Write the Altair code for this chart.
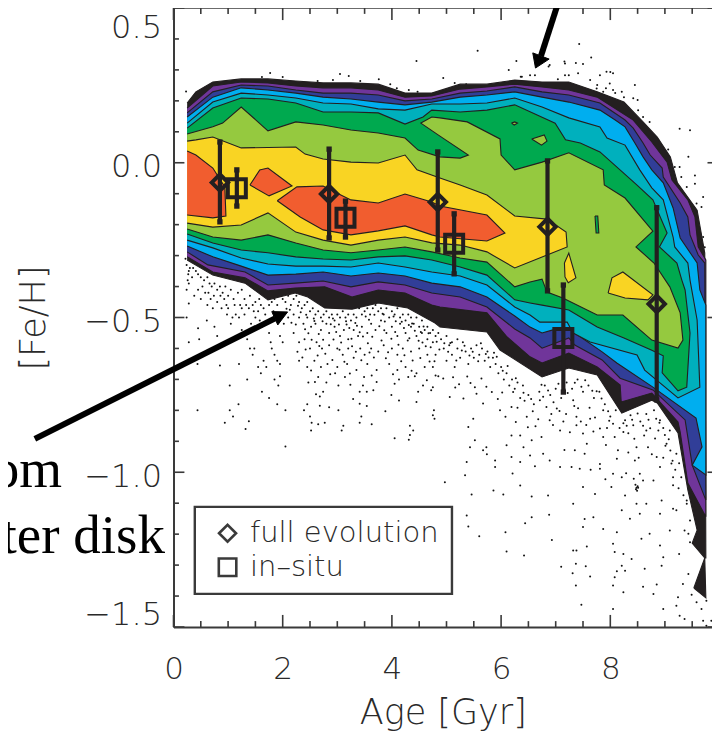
import altair as alt
import pandas as pd

# ---- contour outlines: ages (Gyr) and [Fe/H], in path order ----
BLACK_AGE = [.25,.41,.72,1.24,1.73,2.24,2.74,3.25,3.75,4.24,4.73,5.25,5.74,6.25,6.75,7.24,7.76,8.25,8.60,8.86,9.10,9.23,9.59,9.73,9.75,9.73,9.50,9.59,9.42,9.24,8.86,8.76,8.21,7.76,7.24,6.75,5.98,5.74,4.88,4.79,4.29,3.75,3.27,2.77,2.46,2.23,1.73,1.31,.72,.25]
BLACK_FEH = [.193,.229,.261,.271,.271,.264,.258,.258,.254,.225,.225,.254,.254,.267,.261,.261,.229,.196,.132,.083,.019,-.065,-.153,-.292,-1.277,-1.277,-1.229,-1.187,-1.057,-.873,-.776,-.767,-.809,-.686,-.663,-.692,-.605,-.547,-.531,-.518,-.469,-.453,-.473,-.469,-.434,-.421,-.443,-.389,-.363,-.314]
TAIL_AGE = [9.53,9.73,9.75,9.53]
TAIL_FEH = [-1.374,-1.277,-1.406,-1.374]
PURPLE_AGE = [.25,.72,1.24,1.73,2.24,2.74,3.25,3.75,4.24,4.73,5.25,5.74,6.25,6.75,7.24,7.76,8.42,8.76,9.04,9.13,9.42,9.55,9.61,9.75,9.75,9.42,9.28,9.24,8.76,8.20,8.18,7.76,7.24,6.75,6.53,6.11,5.74,4.88,4.73,4.24,3.75,3.27,2.77,2.23,1.73,1.31,.72,.25]
PURPLE_FEH = [.177,.248,.261,.258,.248,.242,.242,.235,.212,.216,.238,.245,.254,.245,.235,.212,.138,.067,.002,-.056,-.120,-.175,-.272,-.314,-1.144,-1.035,-.870,-.838,-.744,-.773,-.718,-.660,-.615,-.647,-.627,-.563,-.485,-.466,-.460,-.421,-.411,-.434,-.401,-.405,-.414,-.372,-.353,-.304]
BLUE_AGE = [.25,.72,1.24,1.73,2.24,2.74,3.25,3.75,4.24,4.73,5.25,5.74,6.25,6.75,7.24,7.81,8.27,8.42,8.60,8.73,8.95,8.97,9.28,9.42,9.46,9.61,9.73,9.75,9.50,9.37,8.78,8.18,7.85,7.35,7.24,6.75,6.53,6.25,5.74,5.25,4.73,4.24,3.75,3.25,2.74,2.23,1.73,1.31,.63,.25]
BLUE_FEH = [.161,.229,.251,.248,.235,.225,.225,.219,.200,.206,.225,.232,.245,.229,.219,.193,.138,.112,.064,.025,-.017,-.046,-.130,-.175,-.233,-.298,-.324,-1.090,-.977,-.831,-.734,-.696,-.637,-.589,-.566,-.599,-.566,-.537,-.466,-.434,-.421,-.395,-.385,-.401,-.382,-.389,-.395,-.353,-.330,-.288]
CYAN_AGE = [.25,.72,1.24,1.73,2.24,2.74,3.25,3.75,4.24,4.73,5.25,5.74,6.25,6.75,7.24,7.81,8.09,8.27,8.45,8.60,8.76,8.97,9.15,9.28,9.59,9.64,9.75,9.75,9.50,9.68,9.57,8.78,8.12,7.85,7.35,7.26,6.95,6.75,6.53,6.25,5.74,5.25,4.73,4.24,3.75,3.25,2.74,2.24,1.73,1.24,.72,.25]
CYAN_FEH = [.148,.212,.242,.235,.225,.212,.206,.196,.187,.196,.212,.219,.229,.212,.196,.170,.138,.116,.064,.019,-.023,-.065,-.146,-.243,-.324,-.411,-.460,-1.009,-.977,-.918,-.825,-.725,-.647,-.611,-.550,-.534,-.540,-.550,-.531,-.495,-.434,-.401,-.389,-.366,-.356,-.366,-.353,-.360,-.363,-.334,-.304,-.269]
TEAL_AGE = [.25,.72,1.24,1.73,2.24,2.74,3.25,3.75,4.24,4.73,5.25,5.74,6.25,6.75,7.24,7.81,7.94,8.27,8.54,8.76,8.97,9.15,9.18,9.42,9.46,9.59,9.64,9.24,8.63,8.49,7.63,7.32,7.21,6.71,6.53,6.25,5.74,5.25,4.73,4.24,3.75,3.25,2.74,2.24,1.73,1.24,.72,.25]
TEAL_FEH = [.128,.196,.225,.219,.209,.193,.190,.174,.170,.190,.190,.193,.209,.180,.145,.116,.080,.057,-.023,-.081,-.120,-.240,-.272,-.324,-.379,-.508,-.725,-.760,-.670,-.621,-.579,-.550,-.515,-.515,-.492,-.466,-.395,-.366,-.353,-.337,-.324,-.337,-.334,-.334,-.327,-.308,-.275,-.250]
GREEN_AGE = [.25,.72,1.24,1.73,2.24,2.74,3.25,3.75,4.24,4.57,4.73,5.25,5.74,6.25,6.99,7.18,7.45,7.81,8.49,8.78,9.04,8.90,9.22,9.31,9.37,9.46,9.40,9.24,8.95,8.97,8.75,8.25,7.76,7.24,6.75,6.53,6.25,5.74,5.25,4.73,4.24,3.75,3.25,2.74,2.24,1.73,1.24,.72,.25]
GREEN_FEH = [.112,.177,.209,.206,.193,.164,.164,.161,.125,.148,.170,.164,.170,.187,.128,.074,.064,.035,-.072,-.120,-.227,-.272,-.324,-.379,-.411,-.550,-.725,-.737,-.679,-.624,-.605,-.566,-.531,-.476,-.460,-.453,-.443,-.363,-.337,-.314,-.301,-.304,-.314,-.311,-.304,-.291,-.282,-.259,-.230]
LIME_AGE = [.25,.72,.90,1.24,1.51,1.73,2.24,2.74,3.25,3.75,4.24,4.48,4.88,5.25,5.40,4.88,4.53,4.73,4.88,5.38,5.98,6.00,6.25,6.75,7.24,7.87,7.89,8.27,8.78,8.47,8.80,9.09,9.28,9.33,9.24,8.76,8.23,7.76,7.13,6.84,6.75,6.53,6.25,5.74,5.25,4.73,4.24,3.75,3.25,2.74,2.24,1.73,1.24,.72,.25]
LIME_FEH = [.093,.116,.128,.180,.138,.103,.132,.122,.106,.096,.080,.041,.019,.015,.025,.086,.128,.148,.145,.132,.077,.025,-.023,.002,.032,-.023,-.072,-.114,-.221,-.272,-.324,-.401,-.485,-.573,-.599,-.573,-.492,-.492,-.437,-.418,-.376,-.385,-.401,-.321,-.308,-.288,-.272,-.282,-.291,-.282,-.259,-.233,-.250,-.240,-.214]
YELLOW_AGE = [.25,.41,.72,1.24,2.24,2.41,2.74,3.25,3.75,4.24,4.46,4.88,5.25,5.74,6.25,6.84,7.19,7.21,6.25,5.74,5.25,4.73,4.24,3.75,3.25,2.74,2.24,1.73,1.24,.72,.25]
YELLOW_FEH = [.070,.074,.083,.048,.051,.028,.012,.002,-.001,.025,-.023,-.049,-.072,-.104,-.172,-.182,-.224,-.272,-.340,-.288,-.266,-.259,-.240,-.250,-.266,-.250,-.224,-.162,-.201,-.208,-.195]
ORANGE1_AGE = [.25,.41,.72,.94,.96,.72,.25]
ORANGE1_FEH = [.038,.025,-.017,-.078,-.172,-.178,-.169]
ORANGE2_AGE = [1.40,1.58,1.73,2.17,1.75,1.40]
ORANGE2_FEH = [-.072,-.023,-.017,-.075,-.107,-.072]
ORANGE3_AGE = [1.90,2.26,2.74,2.99,3.25,3.75,4.24,4.73,4.88,5.74,6.07,5.74,4.88,4.73,4.24,3.75,3.25,2.74,2.32,1.90]
ORANGE3_FEH = [-.123,-.078,-.075,-.098,-.120,-.130,-.101,-.127,-.140,-.169,-.227,-.253,-.240,-.233,-.204,-.220,-.233,-.217,-.175,-.123]
YELLOW_A_AGE = [7.96,8.03,8.23,8.78,8.69,8.27,7.96]
YELLOW_A_FEH = [-.421,-.372,-.353,-.427,-.443,-.437,-.421]
YELLOW_B_AGE = [7.16,7.24,7.37,7.23,7.17,7.16]
YELLOW_B_FEH = [-.324,-.292,-.372,-.388,-.369,-.324]
GREEN_LENS_AGE = [7.72,7.77,7.79,7.74,7.72]
GREEN_LENS_FEH = [-.172,-.172,-.227,-.227,-.172]
LIME_C_AGE = [6.56,6.79,6.84,6.74,6.56]
LIME_C_FEH = [.077,.090,.070,.057,.077]
LIME_D_AGE = [6.19,6.25,6.30,6.24,6.19]
LIME_D_FEH = [.128,.132,.128,.122,.128]

COL_BLACK = "#231f20"; COL_PURPLE = "#70359a"; COL_BLUE = "#313e98"; COL_CYAN = "#00aeef"
COL_TEAL = "#00b0bd"; COL_GREEN = "#00a94f"; COL_LIME = "#95c93f"; COL_YELLOW = "#f9d423"; COL_ORANGE = "#f15d2f"

LEVELS = [
    (BLACK_AGE, BLACK_FEH, COL_BLACK), (TAIL_AGE, TAIL_FEH, COL_BLACK),
    (PURPLE_AGE, PURPLE_FEH, COL_PURPLE), (BLUE_AGE, BLUE_FEH, COL_BLUE),
    (CYAN_AGE, CYAN_FEH, COL_CYAN), (TEAL_AGE, TEAL_FEH, COL_TEAL),
    (GREEN_AGE, GREEN_FEH, COL_GREEN), (LIME_AGE, LIME_FEH, COL_LIME),
    (YELLOW_AGE, YELLOW_FEH, COL_YELLOW), (ORANGE1_AGE, ORANGE1_FEH, COL_ORANGE),
    (ORANGE2_AGE, ORANGE2_FEH, COL_ORANGE), (ORANGE3_AGE, ORANGE3_FEH, COL_ORANGE),
    (YELLOW_A_AGE, YELLOW_A_FEH, COL_YELLOW), (YELLOW_B_AGE, YELLOW_B_FEH, COL_YELLOW),
    (GREEN_LENS_AGE, GREEN_LENS_FEH, COL_GREEN), (LIME_C_AGE, LIME_C_FEH, COL_LIME),
    (LIME_D_AGE, LIME_D_FEH, COL_LIME),
]

# ---- markers with error bars ----
FULL_AGE = [.85, 2.85, 4.84, 6.85, 8.85]
FULL_FEH = [-.064, -.101, -.127, -.207, -.456]
FULL_HI = [.067, .044, .035, .006, -.145]
FULL_LO = [-.191, -.243, -.282, -.414, -.766]
INSITU_AGE = [1.16, 3.15, 5.14, 7.14]
INSITU_FEH = [-.082, -.178, -.262, -.566]
INSITU_HI = [-.023, -.124, -.165, -.395]
INSITU_LO = [-.140, -.240, -.359, -.741]

# ---- scattered stars ----
DOTS = [
(.22,-.31),(.24,-.33),(.28,-.35),(.30,-.34),(.26,-.38),(.28,-.39),(.24,-.41),(.27,-.36),(.36,-.34),(.41,-.35),(.45,-.36),(.50,-.37),(.56,-.38),(.62,-.37),(.66,-.39),(.70,-.40),(.75,-.39),(.80,-.41),(.85,-.40),(.90,-.42),(.95,-.40),(1.0,-.43),(1.05,-.41),(1.10,-.44),(1.18,-.42),(1.25,-.41),(1.30,-.44),(1.4,-.43),(1.45,-.46),(1.5,-.45),(1.55,-.48),(1.6,-.46),(1.65,-.47),
(.45,-.41),(.5,-.44),(.58,-.42),(.62,-.46),(.68,-.44),(.72,-.47),(.8,-.45),(.88,-.47),(.93,-.44),(.98,-.49),(1.0,-.47),(1.05,-.52),(1.08,-.5),(1.12,-.46),(1.2,-.5),(1.25,-.47),(1.3,-.49),(1.38,-.47),(1.42,-.52),(1.5,-.5),(1.58,-.51),(1.62,-.53),(.24,-.50),(.45,-.535),(.61,-.51),(.28,-.455),(.28,-.58),(.47,-.57),(.75,-.53),(.8,-.56),(1.15,-.56),(1.25,-.54),(1.35,-.57),(1.4,-.6),(1.45,-.62),(1.48,-.6),(.44,-.65),(.85,-.655),(1.2,-.65),(1.55,-.66),(1.65,-.64),(1.7,-.66),(1.6,-.68),(1.95,-.65),(1.8,-.6),(1.85,-.62),(1.9,-.64),(2.0,-.58),(1.95,-.56),(1.75,-.55),(1.78,-.58),(1.03,-.72),(1.35,-.7),(1.03,-.8),(1.19,-.78),(.44,-.8),(1.09,-.82),(.94,-.84),(1.38,-.835),(1.32,-.86),(1.62,-.74),(1.75,-.76),(1.9,-.78),(2.05,-.8),(1.85,-.7),(1.92,-.72),(1.95,-.69),
(1.75,-.46),(1.8,-.45),(1.85,-.44),(1.9,-.46),(1.95,-.43),(2.0,-.44),(2.05,-.45),(2.1,-.43),(2.15,-.46),(2.2,-.44),(2.25,-.43),(2.3,-.45),(2.35,-.47),(2.4,-.46),(2.45,-.45),(2.5,-.48),(2.55,-.47),(2.6,-.49),(2.65,-.48),(2.7,-.5),(2.75,-.49),(2.8,-.48),(2.85,-.5),(2.9,-.49),(2.95,-.51),(3.0,-.49),(3.05,-.5),(3.1,-.48),(3.15,-.5),(3.2,-.49),(3.25,-.51),(3.3,-.49),(3.35,-.5),(3.4,-.47),(3.45,-.49),(3.5,-.48),(3.55,-.47),(3.6,-.49),(3.65,-.47),(3.7,-.46),(3.75,-.48),(3.8,-.47),(3.85,-.49),(3.9,-.47),(3.95,-.5),(4.0,-.48),(4.05,-.49),(4.1,-.47),(4.15,-.5),(4.2,-.49),(4.25,-.51),(4.3,-.49),(4.35,-.5),(4.4,-.52),(4.45,-.5),(4.5,-.53),(4.55,-.51),(4.6,-.54),(4.65,-.53),(4.7,-.55),(4.75,-.54),(4.8,-.56),(4.85,-.55),(4.9,-.57),(5.0,-.56),(5.1,-.58),(5.2,-.57),
(2.1,-.5),(2.2,-.49),(2.3,-.5),(2.38,-.52),(2.45,-.5),(2.52,-.53),(2.6,-.52),(2.7,-.54),(2.8,-.52),(2.85,-.55),(2.95,-.53),(3.05,-.56),(3.12,-.54),(3.2,-.57),(3.3,-.54),(3.38,-.56),(3.45,-.53),(3.55,-.55),(3.62,-.52),(3.7,-.54),(3.8,-.51),(3.9,-.55),(4.0,-.53),(4.1,-.56),(4.15,-.52),(4.25,-.55),(4.35,-.53),(4.45,-.56),(4.55,-.55),(4.65,-.57),(4.75,-.58),
(2.2,-.55),(2.3,-.58),(2.4,-.57),(2.5,-.6),(2.62,-.58),(2.72,-.6),(2.85,-.59),(3.0,-.6),(3.1,-.62),(3.2,-.6),(3.3,-.63),(3.42,-.6),(3.5,-.62),(3.62,-.6),(3.75,-.61),(3.85,-.59),(4.0,-.6),(4.1,-.62),(4.2,-.6),(4.35,-.61),(4.5,-.6),(4.65,-.62),(4.8,-.62),
(2.3,-.64),(2.45,-.66),(2.58,-.64),(2.7,-.66),(2.82,-.65),(3.0,-.66),(3.18,-.65),(3.35,-.67),(3.55,-.65),(3.72,-.67),(3.95,-.65),(4.1,-.67),(4.25,-.66),(4.45,-.68),(4.6,-.66),(4.75,-.66),(4.85,-.69),
(2.47,-.71),(2.59,-.708),(2.65,-.692),(2.8,-.71),(2.96,-.68),(3.02,-.72),(3.14,-.692),(3.24,-.717),(3.47,-.72),(3.49,-.692),(3.41,-.74),(3.54,-.74),(3.66,-.735),(3.72,-.708),(4.05,-.714),(4.13,-.7),(4.3,-.692),(4.42,-.69),(4.57,-.72),(4.48,-.74),(4.75,-.725),(4.72,-.735),(4.8,-.687),(3.99,-.75),(4.13,-.768),(4.45,-.773),(2.68,-.755),(2.74,-.74),(2.61,-.748),(3.29,-.763),(3.41,-.779),(3.54,-.786),
(2.5,-.82),(2.53,-.84),(2.52,-.865),(2.65,-.845),(2.77,-.84),(3.11,-.85),(3.08,-.865),(3.41,-.84),(3.63,-.845),(4.33,-.85),(4.39,-.865),(4.33,-.88),(4.05,-.89),(4.31,-.895),(2.05,-.917),(3.44,-.82),(3.02,-.8),(2.85,-.79),(2.68,-.785),(2.45,-.78),(2.39,-.8),(3.88,-.803),(4.77,-.8),(4.75,-.816),(4.78,-.827),
(4.95,-.6),(5.0,-.64),(5.05,-.59),(5.1,-.62),(5.15,-.66),(5.2,-.6),(5.25,-.63),(5.3,-.58),(5.35,-.61),(5.4,-.65),(5.45,-.6),(5.5,-.63),(5.55,-.59),(5.6,-.62),(5.65,-.6),(5.7,-.64),(5.75,-.61),(5.8,-.66),(5.85,-.63),(5.9,-.65),(5.95,-.68),(6.0,-.66),(6.05,-.7),(6.1,-.68),(6.15,-.72),(6.2,-.7),(6.25,-.73),(6.3,-.71),(6.35,-.76),(6.4,-.72),(6.5,-.75),(6.6,-.78),(6.7,-.74),(6.8,-.72),(6.9,-.75),(7.0,-.73),(7.1,-.76),(7.2,-.71),(7.3,-.73),(7.4,-.7),(7.5,-.74),(7.6,-.72),(7.7,-.76),(7.8,-.74),(7.9,-.78),(8.0,-.82),(8.1,-.8),(8.3,-.85),(8.4,-.83),(8.5,-.81),(8.6,-.85),(8.7,-.83),(8.8,-.8),(8.9,-.84),(9.0,-.88),(9.1,-.93),
(4.94,-.697),(5.06,-.757),(5.31,-.762),(5.55,-.746),(5.67,-.778),(5.98,-.8),(6.19,-.789),(6.47,-.821),(6.71,-.767),(6.83,-.789),(7.02,-.794),(7.32,-.767),(7.38,-.821),(7.63,-.827),(7.87,-.8),(8.05,-.843),(8.27,-.832),(8.42,-.848),(8.66,-.865),(8.91,-.832),(8.88,-.865),(9.09,-.865),(5.49,-.827),(5.4,-.854),(5.52,-.897),(5.43,-.919),(5.67,-.929),(5.73,-.919),(6.1,-.913),(6.19,-.881),(6.35,-.881),(6.41,-.919),(6.56,-.897),(6.74,-.886),(6.89,-.832),(7.08,-.865),(7.38,-.848),(7.5,-.875),(7.57,-.908),(7.81,-.859),(7.87,-.886),(8.08,-.886),(8.24,-.87),(8.48,-.919),(8.69,-.919),(9.03,-.908),(9.21,-.94),(8.85,-.951),(8.45,-.962),(8.14,-.929),(7.81,-.973),(7.53,-.94),(7.35,-.929),(6.89,-.962),(6.77,-.94),(6.53,-.946),(6.19,-.951),(6.35,-.967),(5.89,-.962),(5.89,-.983),(5.37,-.967),(5.34,-1.01),(4.97,-1.032),(5.46,-1.072),(5.86,-1.059),(6.04,-1.072),(6.35,-1.043),(6.56,-1.078),(6.86,-1.075),(7.08,-.983),(7.29,-.983),(7.44,-.989),(7.81,-.989),(8.05,-1.005),(8.21,-1.016),(8.54,-1.005),(8.6,-1.027),(8.79,-1.027),(9.15,-1.016),(9.3,-1.016),(8.91,-.983),(7.5,-1.048),(7.72,-1.07),(8.02,-1.048),(8.27,-1.075),(8.48,-1.102),(8.66,-1.102),(8.94,-1.091),(9.15,-1.118),(9.4,-1.102),(7.32,-1.102),(7.53,-1.151),
(8.46,-1.04),(8.48,-1.05),(8.5,-1.045),(8.47,-1.055),(8.49,-1.06),(8.51,-1.05),
(5.37,-1.14),(5.4,-1.175),(5.6,-1.207),(6.08,-1.194),(6.44,-1.165),(6.56,-1.145),(6.88,-1.137),(6.93,-1.219),(6.1,-1.256),(6.42,-1.269),(7.1,-1.305),(7.32,-1.253),(7.38,-1.253),(7.57,-1.24),(7.37,-1.296),(7.55,-1.304),(7.31,-1.326),(7.63,-1.337),(7.37,-1.366),(7.47,-1.428),(8.05,-1.366),(8.08,-1.339),(8.12,-1.32),(8.21,-1.302),(8.24,-1.388),(8.05,-1.442),(8.27,-1.318),(8.6,-1.37),(8.85,-1.363),(8.79,-1.393),(8.97,-1.442),(9.24,-1.404),(9.21,-1.431),(9.49,-1.396),(9.27,-1.464),(9.36,-1.474),(9.58,-1.42),(9.67,-1.442),(9.76,-1.415),(9.85,-1.48),(9.7,-1.48),(9.76,-1.496),
(7.5,-1.177),(7.69,-1.145),(7.87,-1.183),(8.12,-1.194),(8.05,-1.231),(8.08,-1.258),(8.24,-1.264),(8.39,-1.28),(8.63,-1.312),(8.94,-1.302),(9.26,-1.264),(9.43,-1.329),(9.33,-1.361),(9.43,-1.199),(9.36,-1.188),(9.46,-1.226),(9.46,-1.156),(8.57,-1.215),(8.72,-1.199),(9.09,-1.188),(8.91,-1.237),(8.97,-1.275),(8.54,-1.134),(8.21,-1.123),(8.36,-1.15),(8.91,-1.134),(9.21,-1.123),(9.4,-1.091),(9.15,-1.042),
(6.38,.278),(6.53,.283),(6.89,.316),(7.17,.321),(7.17,.283),(7.5,.319),(7.41,.289),(7.63,.267),(7.81,.283),(7.93,.294),(8.05,.289),(7.99,.256),(7.75,.24),(7.87,.229),(8.05,.235),(8.21,.229),(8.45,.251),(8.42,.208),(8.51,.17),(8.72,.132),(8.88,.073),(9.06,.043),(9.27,.11),(9.46,.105),(9.43,.019),(9.27,-.014),(9.55,-.041),(9.3,-.046),(9.18,-.014),(9.4,-.078),(9.55,-.068),(9.7,-.111),(9.67,-.143),(9.73,-.273),(9.7,-.24),(9.58,-.132),
(5.57,.362),(7.43,.384),(4.45,.329),(6.28,.329),(6.14,.30),(7.16,.327),(6.87,.311),(7.65,.34),(7.37,.322),(4.94,.274),(.23,.23),(1.62,.277),(1.77,.29),(2.0,.277),(3.05,.287),(3.21,.28),(3.42,.264),(3.76,.27),(3.97,.254),(4.09,.241),(4.31,.235),(4.47,.229),(5.15,.258),(5.36,.254),(2.64,.264),(2.92,.267),(6.36,.278),(6.62,.283),(7.04,.27),(7.24,.283),(7.76,.251),(7.92,.241),(8.09,.225),(8.25,.212),(8.0,.293),(8.5,.203),(8.6,.148),
(2.07,-.472),(2.33,-.483),(2.58,-.511),(2.88,-.522),(3.17,-.523),(3.36,-.527),(3.58,-.507),(3.83,-.488),(4.07,-.512),(4.31,-.524),(4.58,-.529),(2.16,-.517),(2.41,-.538),(2.66,-.553),(2.93,-.571),(3.22,-.534),(3.47,-.561),(3.77,-.528),(3.99,-.569),(4.22,-.534),(4.42,-.543),(4.71,-.596),(2.27,-.611),(2.53,-.572),(2.78,-.617),(3.07,-.581),(3.27,-.593),(3.56,-.583),(3.81,-.574),(4.12,-.588),(4.29,-.574),(4.56,-.581),(4.87,-.603),(2.36,-.629),(2.64,-.623),(2.91,-.637),(3.13,-.643),(3.44,-.638),(3.67,-.629),(3.89,-.632),(4.17,-.641),(4.38,-.639),(4.69,-.642),(5.03,-.611),(5.18,-.639),(5.28,-.607),(5.42,-.623),(5.58,-.641),(5.72,-.618),(5.92,-.627),(6.03,-.672),(6.22,-.741),(6.43,-.769),(6.58,-.803),(6.77,-.756),(6.96,-.774),(7.07,-.802),(7.22,-.744),(7.34,-.786),(7.47,-.724),(7.62,-.792),(7.75,-.738),(7.98,-.834),(8.17,-.857),(8.33,-.874),(8.44,-.892),(8.62,-.881),(8.73,-.858),(8.82,-.891),(9.01,-.914),(5.12,-.693),(5.23,-.716),(5.38,-.691),(5.52,-.725),(5.64,-.697),(5.83,-.741),(5.94,-.763),(6.08,-.821),(6.27,-.838),(6.49,-.855),(6.68,-.829),(6.92,-.812),(7.14,-.836),(7.26,-.871),(7.41,-.793),(7.56,-.847),(7.72,-.823),(7.94,-.857),
(.34,-.37),(.38,-.43),(.53,-.40),(.64,-.42),(.74,-.43),(.86,-.43),(.97,-.46),(1.14,-.49),(1.22,-.46),(1.33,-.46),(1.47,-.48),(1.57,-.44),(1.68,-.49),(1.72,-.52),(1.83,-.48),(1.93,-.5),(2.02,-.52),
(2.13,-.475),(2.28,-.462),(2.43,-.491),(2.57,-.503),(2.73,-.512),(2.92,-.503),(3.03,-.523),(3.16,-.512),(3.33,-.518),(3.52,-.497),(3.68,-.491),(3.87,-.513),(4.03,-.497),(4.18,-.514),(4.37,-.519),(4.53,-.547),(4.67,-.551),(4.82,-.578),(4.96,-.583),(2.24,-.523),(2.47,-.551),(2.74,-.572),(2.98,-.547),(3.26,-.569),(3.41,-.548),(3.64,-.562),(3.86,-.541),(4.06,-.547),(4.32,-.567),(4.49,-.575),(4.62,-.593),(2.42,-.603),(2.67,-.592),(3.04,-.604),(3.34,-.611),(3.59,-.613),(3.93,-.612),(4.23,-.622),(4.52,-.631),(4.78,-.641),(2.52,-.671),(2.87,-.683),(3.23,-.681),(3.63,-.687),(4.02,-.683),(4.36,-.672),(4.64,-.703),(5.07,-.582),(5.33,-.591),(5.48,-.611),(5.63,-.583),(5.77,-.629),(5.87,-.614),(6.12,-.657),(6.27,-.696),(6.41,-.743),(6.55,-.763),(6.74,-.717),(6.86,-.736),(7.05,-.714),(7.16,-.731),(7.35,-.711),(7.54,-.703),(7.67,-.737),(7.84,-.762),(7.96,-.803),(8.24,-.842),(8.37,-.816),(8.55,-.836),(8.66,-.812),(8.84,-.827),(8.97,-.857),(9.07,-.893),(9.14,-.963),(9.19,-.992),(9.26,-.971),
(5.16,-.726),(5.44,-.712),(5.73,-.724),(6.02,-.742),(6.3,-.792),(6.63,-.851),(6.95,-.847),(7.19,-.812),(7.46,-.836),(7.69,-.868),(7.92,-.912),(8.12,-.956),(8.33,-.936),(8.52,-.953),(8.76,-.942),(8.97,-.953),(9.12,-.972),(9.25,-1.052),(9.34,-1.074),(8.43,-1.021),(8.29,-1.003),(7.91,-1.023),(7.64,-.992),(7.16,-.928),(6.62,-.981),(6.21,-1.004),(5.74,-.942),
]

# ---- axis ticks ----
X_MAJOR = [0, 2, 4, 6, 8]
X_MINOR = [.5, 1, 1.5, 2.5, 3, 3.5, 4.5, 5, 5.5, 6.5, 7, 7.5, 8.5, 9, 9.5]
Y_MAJOR = [-1.5, -1.0, -.5, 0.0, .5]
Y_MINOR = [-1.4, -1.3, -1.2, -1.1, -.9, -.8, -.7, -.6, -.4, -.3, -.2, -.1, .1, .2, .3, .4]

# ---- annotation geometry (data units) ----
ARROW1_AGE = [-2.54, 1.86]
ARROW1_FEH = [-.892, -.503]
HEAD1_AGE = [2.09, 1.80, 1.91, 2.09]
HEAD1_FEH = [-.482, -.481, -.524, -.482]
ARROW2_AGE = [7.08, 6.73]
ARROW2_FEH = [.536, .345]
HEAD2_AGE = [6.63, 6.58, 6.88, 6.63]
HEAD2_FEH = [.306, .355, .335, .306]
BOX_AGE = [.39, 5.10]
BOX_FEH = [-1.112, -1.393]

FONT = "DejaVu Sans"
WEIGHT = 200
DARK = "#231f20"
AX = "#3a3a3a"
TXT = "#2a2a2a"

xs = alt.Scale(domain=[0, 9.8626], nice=False, zero=False)
ys = alt.Scale(domain=[-1.5, .5], nice=False, zero=False)
X = alt.X("a:Q", scale=xs, title="Age [Gyr]", axis=alt.Axis(
    values=X_MAJOR, tickSize=0, grid=False, format="d", domainColor=AX, domainWidth=2,
    labelFont=FONT, labelFontSize=31, labelFontWeight=WEIGHT, labelColor=TXT, labelPadding=27,
    labelFlush=False,
    titleFont=FONT, titleFontSize=35, titleFontWeight=WEIGHT, titleColor=TXT,
    titleBaseline="middle", titleY=85))
Y = alt.Y("f:Q", scale=ys, title="[Fe/H]", axis=alt.Axis(
    values=Y_MAJOR, tickSize=0, grid=False, format=".1f", domainColor=AX, domainWidth=2,
    labelFont=FONT, labelFontSize=32, labelFontWeight=WEIGHT, labelColor=TXT, labelPadding=12,
    labelFlush=True, labelOffset=4,
    titleFont=FONT, titleFontSize=35, titleFontWeight=WEIGHT, titleColor=TXT,
    titleBaseline="middle", titleX=-140.5, titleY=309.5))


def frame(ages, fehs):
    return pd.DataFrame({"a": ages, "f": fehs, "i": range(len(ages))})


def outline(ages, fehs, fill, stroke=DARK, width=1.1):
    return alt.Chart(frame(ages, fehs)).mark_line(
        fill=fill, stroke=stroke, strokeWidth=width, strokeJoin="miter", clip=False
    ).encode(x=X, y=Y, order=alt.Order("i:Q"))


def path(ages, fehs, width, color=DARK):
    return alt.Chart(frame(ages, fehs)).mark_line(
        stroke=color, strokeWidth=width, strokeCap="butt", clip=False
    ).encode(x=X, y=Y, order=alt.Order("i:Q"))


layers = []

# stars
dots = pd.DataFrame(DOTS, columns=["a", "f"])
layers.append(alt.Chart(dots).mark_circle(size=4, color="#111111", opacity=1).encode(x=X, y=Y))

# contours
for ages, fehs, col in LEVELS:
    stroke = col if col == COL_BLACK else DARK
    layers.append(outline(ages, fehs, col, stroke))


# inner ticks on all four sides
def ticks(rows, width=1.6):
    return alt.Chart(pd.DataFrame(rows, columns=["a", "a2", "f", "f2"])).mark_rule(
        color=AX, strokeWidth=width
    ).encode(x=X, x2="a2:Q", y=Y, y2="f2:Q")


rows = []
for t in X_MAJOR:
    rows += [(t, t, -1.5, -1.461), (t, t, .5, .461)]
for t in X_MINOR:
    rows += [(t, t, -1.5, -1.481), (t, t, .5, .481)]
for t in Y_MAJOR:
    rows += [(0, .2, t, t), (10, 9.78, t, t)]
for t in Y_MINOR:
    rows += [(0, .1, t, t), (10, 9.89, t, t)]
rows += [(0, 10, .5, .5)]
layers.append(ticks(rows))

# error bars
bars = pd.DataFrame({
    "a": FULL_AGE + INSITU_AGE, "f": FULL_HI + INSITU_HI, "f2": FULL_LO + INSITU_LO})
layers.append(alt.Chart(bars).mark_rule(color=DARK, strokeWidth=4.2).encode(x=X, y=Y, y2="f2:Q"))
caps = pd.DataFrame({
    "a": (FULL_AGE + INSITU_AGE) * 2,
    "f": FULL_HI + INSITU_HI + FULL_LO + INSITU_LO})
layers.append(alt.Chart(caps).mark_point(shape="square", filled=True, size=28, color=DARK, opacity=1).encode(x=X, y=Y))
layers.append(alt.Chart(pd.DataFrame({"a": FULL_AGE, "f": FULL_FEH})).mark_point(
    shape="diamond", size=269, filled=False, color=DARK, strokeWidth=4, opacity=1).encode(x=X, y=Y))
layers.append(alt.Chart(pd.DataFrame({"a": INSITU_AGE, "f": INSITU_FEH})).mark_point(
    shape="square", size=324, filled=False, color=DARK, strokeWidth=4, opacity=1).encode(x=X, y=Y))

# legend box
layers.append(alt.Chart(pd.DataFrame({"a": [BOX_AGE[0]], "a2": [BOX_AGE[1]], "f": [BOX_FEH[0]], "f2": [BOX_FEH[1]]})).mark_rect(
    fillOpacity=0, stroke=AX, strokeWidth=2.4).encode(x=X, x2="a2:Q", y=Y, y2="f2:Q"))
layers.append(alt.Chart(pd.DataFrame({"a": [.99], "f": [-1.197]})).mark_point(
    shape="diamond", size=289, filled=False, color=AX, strokeWidth=2.6, opacity=1).encode(x=X, y=Y))
layers.append(alt.Chart(pd.DataFrame({"a": [.99], "f": [-1.307]})).mark_point(
    shape="square", size=306, filled=False, color=AX, strokeWidth=2.6, opacity=1).encode(x=X, y=Y))
legend_text = pd.DataFrame({"a": [1.40, 1.40], "f": [-1.197, -1.307], "t": ["full evolution", "in\u2013situ"]})
layers.append(alt.Chart(legend_text).mark_text(
    align="left", baseline="middle", font=FONT, fontSize=29, fontWeight=WEIGHT, color=TXT).encode(x=X, y=Y, text="t:N"))

# arrows and cut-off caption
layers.append(path(ARROW1_AGE, ARROW1_FEH, 6, "#000000"))
layers.append(outline(HEAD1_AGE, HEAD1_FEH, "#000000", "#000000", 1))
layers.append(path(ARROW2_AGE, ARROW2_FEH, 6, "#000000"))
layers.append(outline(HEAD2_AGE, HEAD2_FEH, "#000000", "#000000", 1))
caption = pd.DataFrame({"a": [-2.04, -.156], "f": [-1.048, -1.261], "t": ["om", "ter disk"]})
layers.append(alt.Chart(caption).mark_text(
    align="right", baseline="alphabetic", font="Liberation Serif", fontSize=55, color="#000000", clip=False).encode(x=X, y=Y, text="t:N"))

chart = alt.layer(*layers).properties(
    width=538.5, height=619,
    padding={"left": 165.5, "top": 0, "right": 0, "bottom": 110},
    autosize=alt.AutoSizeParams(type="none"),
    background="white",
).configure_view(stroke=None)

chart.save("out.html", embed_options={"renderer": "svg", "actions": False})
